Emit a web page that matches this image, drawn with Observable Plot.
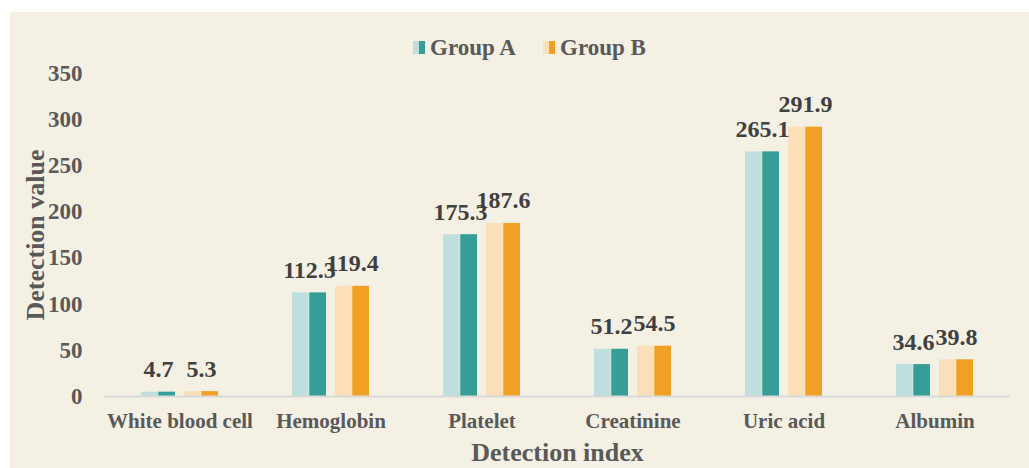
<!DOCTYPE html>
<html>
<head>
<meta charset="utf-8">
<script src="https://cdn.jsdelivr.net/npm/d3@7"></script>
<script src="https://cdn.jsdelivr.net/npm/@observablehq/plot@0.6"></script>
<style>
  html, body { margin: 0; padding: 0; background: #ffffff; }
  #panel {
    position: absolute; left: 10px; top: 12px; width: 1019px; height: 456px;
    background: #f4f0e4; overflow: hidden;
    font-family: "Liberation Serif", "Times New Roman", serif; font-weight: bold;
  }
  #legend { position: absolute; left: 0; top: 0; width: 1019px; height: 48px; }
  .item { position: absolute; top: 24px; display: flex; align-items: center; color: #595959; font-size: 23px; }
  .sw { display: inline-block; width: 6px; height: 13px; }
  .item span.lbl { margin-left: 5px; line-height: 23px; }
  #chart { position: absolute; left: 0; top: 48px; }
  #chart svg [aria-label="y-axis tick label"] { font-size: 23px; fill: #595959; }
  #chart svg [aria-label="fx-axis tick label"] { font-size: 21px; fill: #595959; }
  #chart svg [aria-label="y-axis label"], #chart svg [aria-label="fx-axis label"] { font-size: 26px; fill: #595959; }
</style>
</head>
<body>
<div id="panel">
  <div id="legend"></div>
  <div id="chart"></div>
</div>
<script>
const categories = ["White blood cell", "Hemoglobin", "Platelet", "Creatinine", "Uric acid", "Albumin"];
const groups = ["Group A", "Group B"];
const groupA = [4.7, 112.3, 175.3, 51.2, 265.1, 34.6];
const groupB = [5.3, 119.4, 187.6, 54.5, 291.9, 39.8];
const yTicks = [0, 50, 100, 150, 200, 250, 300, 350];
const lightColors = ["#bfdfdf", "#fadfb8"];
const darkColors = ["#369e97", "#f0a125"];

const data = categories.flatMap((c, i) => [
  {category: c, group: groups[0], value: groupA[i]},
  {category: c, group: groups[1], value: groupB[i]}
]);

const half = 17.25;

const chart = Plot.plot({
  width: 1019,
  height: 408,
  marginTop: 13,
  marginBottom: 72,
  marginLeft: 94,
  marginRight: 19,
  style: {background: "transparent", fontFamily: '"Liberation Serif", "Times New Roman", serif', fontWeight: "bold", color: "#595959", overflow: "visible"},
  fx: {domain: categories, paddingInner: 0, paddingOuter: 0, label: "Detection index", labelAnchor: "center", labelArrow: "none", labelOffset: 64, tickSize: 0, tickPadding: 17},
  x: {domain: groups, paddingInner: 0.207, paddingOuter: 0.839, axis: null},
  y: {domain: [0, 350], ticks: yTicks, tickSize: 0, tickPadding: 22, label: "Detection value", labelAnchor: "center", labelArrow: "none", labelOffset: 79},
  marks: [
    Plot.barY(data, {fx: "category", x: "group", y: "value", fill: (d) => lightColors[groups.indexOf(d.group)], insetRight: half}),
    Plot.barY(data, {fx: "category", x: "group", y: "value", fill: (d) => darkColors[groups.indexOf(d.group)], insetLeft: half}),
    Plot.ruleY([0], {stroke: "#d9d9d9", strokeWidth: 2}),
    Plot.text(data, {fx: "category", x: "group", y: "value", text: (d) => d.value.toFixed(1), dy: -15, lineAnchor: "bottom", fontSize: 24, fill: "#404040", fontWeight: "bold"})
  ]
});
document.getElementById("chart").appendChild(chart);

// legend
const legend = document.getElementById("legend");
const lefts = [403, 533];
groups.forEach((g, i) => {
  const item = document.createElement("div");
  item.className = "item";
  item.style.left = lefts[i] + "px";
  item.innerHTML = `<span class="sw" style="background:${lightColors[i]}"></span><span class="sw" style="background:${darkColors[i]}"></span><span class="lbl">${g}</span>`;
  legend.appendChild(item);
});
</script>
</body>
</html>
